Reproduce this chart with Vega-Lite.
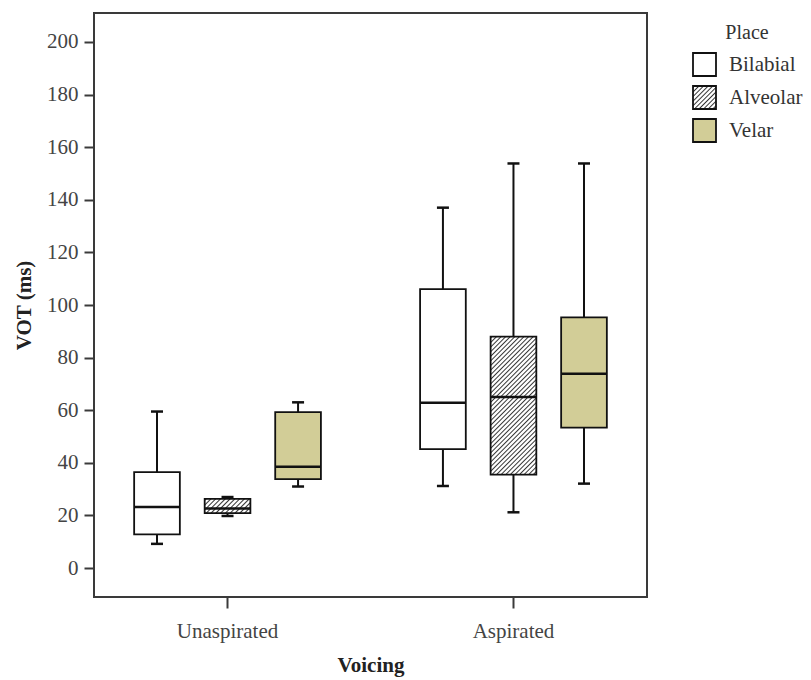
{
  "$schema": "https://vega.github.io/schema/vega-lite/v6.json",
  "width": 553,
  "height": 584,
  "autosize": {"type": "none"},
  "padding": {"left": 94, "top": 13, "right": 164, "bottom": 83},
  "background": "white",
  "config": {
    "font": "Liberation Serif",
    "view": {"stroke": "#3a3a3a", "strokeWidth": 2},
    "axis": {
      "grid": false, "domain": false,
      "tickColor": "#3a3a3a", "tickWidth": 2, "tickSize": 10,
      "labelFont": "Liberation Serif", "labelFontSize": 21, "labelColor": "#444",
      "titleFont": "Liberation Serif", "titleFontSize": 21, "titleFontWeight": "bold", "titleColor": "#222"
    },
    "legend": {
      "orient": "right", "offset": 35, "padding": 10,
      "titleFont": "Liberation Serif", "titleFontSize": 20, "titleFontWeight": "normal", "titleColor": "#333",
      "titleAnchor": "middle", "titlePadding": 9,
      "labelFont": "Liberation Serif", "labelFontSize": 21, "labelColor": "#333", "labelOffset": 12,
      "symbolType": "square", "symbolSize": 529,
      "rowPadding": 2
    }
  },
  "data": {
    "values": [
      {"voicing": "Unaspirated", "place": "Bilabial", "lower": 9.2, "q1": 12.8, "median": 23.2, "q3": 36.5, "upper": 59.5},
      {"voicing": "Unaspirated", "place": "Alveolar", "lower": 19.8, "q1": 20.9, "median": 22.6, "q3": 26.3, "upper": 27.0},
      {"voicing": "Unaspirated", "place": "Velar", "lower": 31.0, "q1": 33.8, "median": 38.5, "q3": 59.3, "upper": 63.0},
      {"voicing": "Aspirated", "place": "Bilabial", "lower": 31.2, "q1": 45.2, "median": 62.8, "q3": 106.0, "upper": 137.0},
      {"voicing": "Aspirated", "place": "Alveolar", "lower": 21.2, "q1": 35.5, "median": 65.0, "q3": 88.0, "upper": 153.8},
      {"voicing": "Aspirated", "place": "Velar", "lower": 32.1, "q1": 53.4, "median": 73.9, "q3": 95.3, "upper": 153.8}
    ]
  },
  "encoding": {
    "x": {
      "field": "voicing", "type": "nominal", "sort": ["Unaspirated", "Aspirated"],
      "scale": {"paddingInner": 0.26, "paddingOuter": 0.097},
      "axis": {"title": "Voicing", "labelAngle": 0, "labelPadding": 12, "tickSize": 11, "titlePadding": 13}
    },
    "xOffset": {
      "field": "place", "type": "nominal", "sort": ["Bilabial", "Alveolar", "Velar"],
      "scale": {"paddingInner": 0.352, "paddingOuter": 0.176}
    }
  },
  "layer": [
    {
      "mark": {"type": "rule", "color": "#111", "strokeWidth": 2},
      "encoding": {
        "y": {
          "field": "lower", "type": "quantitative",
          "scale": {"domain": [-11, 211], "nice": false, "zero": false},
          "axis": {"values": [0, 20, 40, 60, 80, 100, 120, 140, 160, 180, 200], "title": "VOT (ms)", "titlePadding": 12, "labelPadding": 6}
        },
        "y2": {"field": "upper"}
      }
    },
    {
      "mark": {"type": "bar", "stroke": "#111", "strokeWidth": 1.8},
      "encoding": {
        "y": {"field": "q1", "type": "quantitative", "title": "VOT (ms)"},
        "y2": {"field": "q3"},
        "fill": {
          "condition": [
            {
              "test": "datum.place === 'Alveolar' && datum.voicing === 'Aspirated'",
              "value": {
                "gradient": "linear", "x1": 0, "y1": 0, "x2": 0.398, "y2": 1.2,
                "stops": [
                  {"offset": 0, "color": "#fff"}, {"offset": 0.0075, "color": "#333"}, {"offset": 0.015, "color": "#fff"},
                  {"offset": 0.025, "color": "#fff"}, {"offset": 0.0325, "color": "#333"}, {"offset": 0.04, "color": "#fff"},
                  {"offset": 0.05, "color": "#fff"}, {"offset": 0.0575, "color": "#333"}, {"offset": 0.065, "color": "#fff"},
                  {"offset": 0.075, "color": "#fff"}, {"offset": 0.0825, "color": "#333"}, {"offset": 0.09, "color": "#fff"},
                  {"offset": 0.1, "color": "#fff"}, {"offset": 0.1075, "color": "#333"}, {"offset": 0.115, "color": "#fff"},
                  {"offset": 0.125, "color": "#fff"}, {"offset": 0.1325, "color": "#333"}, {"offset": 0.14, "color": "#fff"},
                  {"offset": 0.15, "color": "#fff"}, {"offset": 0.1575, "color": "#333"}, {"offset": 0.165, "color": "#fff"},
                  {"offset": 0.175, "color": "#fff"}, {"offset": 0.1825, "color": "#333"}, {"offset": 0.19, "color": "#fff"},
                  {"offset": 0.2, "color": "#fff"}, {"offset": 0.2075, "color": "#333"}, {"offset": 0.215, "color": "#fff"},
                  {"offset": 0.225, "color": "#fff"}, {"offset": 0.2325, "color": "#333"}, {"offset": 0.24, "color": "#fff"},
                  {"offset": 0.25, "color": "#fff"}, {"offset": 0.2575, "color": "#333"}, {"offset": 0.265, "color": "#fff"},
                  {"offset": 0.275, "color": "#fff"}, {"offset": 0.2825, "color": "#333"}, {"offset": 0.29, "color": "#fff"},
                  {"offset": 0.3, "color": "#fff"}, {"offset": 0.3075, "color": "#333"}, {"offset": 0.315, "color": "#fff"},
                  {"offset": 0.325, "color": "#fff"}, {"offset": 0.3325, "color": "#333"}, {"offset": 0.34, "color": "#fff"},
                  {"offset": 0.35, "color": "#fff"}, {"offset": 0.3575, "color": "#333"}, {"offset": 0.365, "color": "#fff"},
                  {"offset": 0.375, "color": "#fff"}, {"offset": 0.3825, "color": "#333"}, {"offset": 0.39, "color": "#fff"},
                  {"offset": 0.4, "color": "#fff"}, {"offset": 0.4075, "color": "#333"}, {"offset": 0.415, "color": "#fff"},
                  {"offset": 0.425, "color": "#fff"}, {"offset": 0.4325, "color": "#333"}, {"offset": 0.44, "color": "#fff"},
                  {"offset": 0.45, "color": "#fff"}, {"offset": 0.4575, "color": "#333"}, {"offset": 0.465, "color": "#fff"},
                  {"offset": 0.475, "color": "#fff"}, {"offset": 0.4825, "color": "#333"}, {"offset": 0.49, "color": "#fff"},
                  {"offset": 0.5, "color": "#fff"}, {"offset": 0.5075, "color": "#333"}, {"offset": 0.515, "color": "#fff"},
                  {"offset": 0.525, "color": "#fff"}, {"offset": 0.5325, "color": "#333"}, {"offset": 0.54, "color": "#fff"},
                  {"offset": 0.55, "color": "#fff"}, {"offset": 0.5575, "color": "#333"}, {"offset": 0.565, "color": "#fff"},
                  {"offset": 0.575, "color": "#fff"}, {"offset": 0.5825, "color": "#333"}, {"offset": 0.59, "color": "#fff"},
                  {"offset": 0.6, "color": "#fff"}, {"offset": 0.6075, "color": "#333"}, {"offset": 0.615, "color": "#fff"},
                  {"offset": 0.625, "color": "#fff"}, {"offset": 0.6325, "color": "#333"}, {"offset": 0.64, "color": "#fff"},
                  {"offset": 0.65, "color": "#fff"}, {"offset": 0.6575, "color": "#333"}, {"offset": 0.665, "color": "#fff"},
                  {"offset": 0.675, "color": "#fff"}, {"offset": 0.6825, "color": "#333"}, {"offset": 0.69, "color": "#fff"},
                  {"offset": 0.7, "color": "#fff"}, {"offset": 0.7075, "color": "#333"}, {"offset": 0.715, "color": "#fff"},
                  {"offset": 0.725, "color": "#fff"}, {"offset": 0.7325, "color": "#333"}, {"offset": 0.74, "color": "#fff"},
                  {"offset": 0.75, "color": "#fff"}, {"offset": 0.7575, "color": "#333"}, {"offset": 0.765, "color": "#fff"},
                  {"offset": 0.775, "color": "#fff"}, {"offset": 0.7825, "color": "#333"}, {"offset": 0.79, "color": "#fff"},
                  {"offset": 0.8, "color": "#fff"}, {"offset": 0.8075, "color": "#333"}, {"offset": 0.815, "color": "#fff"},
                  {"offset": 0.825, "color": "#fff"}, {"offset": 0.8325, "color": "#333"}, {"offset": 0.84, "color": "#fff"},
                  {"offset": 0.85, "color": "#fff"}, {"offset": 0.8575, "color": "#333"}, {"offset": 0.865, "color": "#fff"},
                  {"offset": 0.875, "color": "#fff"}, {"offset": 0.8825, "color": "#333"}, {"offset": 0.89, "color": "#fff"},
                  {"offset": 0.9, "color": "#fff"}, {"offset": 0.9075, "color": "#333"}, {"offset": 0.915, "color": "#fff"},
                  {"offset": 0.925, "color": "#fff"}, {"offset": 0.9325, "color": "#333"}, {"offset": 0.94, "color": "#fff"},
                  {"offset": 0.95, "color": "#fff"}, {"offset": 0.9575, "color": "#333"}, {"offset": 0.965, "color": "#fff"},
                  {"offset": 0.975, "color": "#fff"}, {"offset": 0.9825, "color": "#333"}, {"offset": 0.99, "color": "#fff"},
                  {"offset": 1, "color": "#fff"}
                ]
              }
            },
            {
              "test": "datum.place === 'Alveolar' && datum.voicing === 'Unaspirated'",
              "value": {
                "gradient": "linear", "x1": 0, "y1": 0, "x2": 1.195, "y2": 0.371,
                "stops": [
                  {"offset": 0, "color": "#fff"}, {"offset": 0.024, "color": "#333"}, {"offset": 0.048, "color": "#fff"},
                  {"offset": 0.08, "color": "#fff"}, {"offset": 0.104, "color": "#333"}, {"offset": 0.128, "color": "#fff"},
                  {"offset": 0.16, "color": "#fff"}, {"offset": 0.184, "color": "#333"}, {"offset": 0.208, "color": "#fff"},
                  {"offset": 0.24, "color": "#fff"}, {"offset": 0.264, "color": "#333"}, {"offset": 0.288, "color": "#fff"},
                  {"offset": 0.32, "color": "#fff"}, {"offset": 0.344, "color": "#333"}, {"offset": 0.368, "color": "#fff"},
                  {"offset": 0.4, "color": "#fff"}, {"offset": 0.424, "color": "#333"}, {"offset": 0.448, "color": "#fff"},
                  {"offset": 0.48, "color": "#fff"}, {"offset": 0.504, "color": "#333"}, {"offset": 0.528, "color": "#fff"},
                  {"offset": 0.56, "color": "#fff"}, {"offset": 0.584, "color": "#333"}, {"offset": 0.608, "color": "#fff"},
                  {"offset": 0.64, "color": "#fff"}, {"offset": 0.664, "color": "#333"}, {"offset": 0.688, "color": "#fff"},
                  {"offset": 0.72, "color": "#fff"}, {"offset": 0.744, "color": "#333"}, {"offset": 0.768, "color": "#fff"},
                  {"offset": 0.8, "color": "#fff"}, {"offset": 0.824, "color": "#333"}, {"offset": 0.848, "color": "#fff"},
                  {"offset": 0.88, "color": "#fff"}, {"offset": 0.904, "color": "#333"}, {"offset": 0.928, "color": "#fff"},
                  {"offset": 0.96, "color": "#fff"}, {"offset": 0.984, "color": "#333"}, {"offset": 1, "color": "#fff"}
                ]
              }
            }
          ],
          "field": "place", "type": "nominal", "sort": ["Bilabial", "Alveolar", "Velar"],
          "scale": {
            "domain": ["Bilabial", "Alveolar", "Velar"],
            "range": [
              "#ffffff",
              {"expr": "{gradient: 'linear', x1: 0, y1: 0, x2: 1, y2: 1, stops: [{offset: 0, color: '#fff'}, {offset: 0.03, color: '#333'}, {offset: 0.06, color: '#fff'}, {offset: 0.1, color: '#fff'}, {offset: 0.13, color: '#333'}, {offset: 0.16, color: '#fff'}, {offset: 0.2, color: '#fff'}, {offset: 0.23, color: '#333'}, {offset: 0.26, color: '#fff'}, {offset: 0.3, color: '#fff'}, {offset: 0.33, color: '#333'}, {offset: 0.36, color: '#fff'}, {offset: 0.4, color: '#fff'}, {offset: 0.43, color: '#333'}, {offset: 0.46, color: '#fff'}, {offset: 0.5, color: '#fff'}, {offset: 0.53, color: '#333'}, {offset: 0.56, color: '#fff'}, {offset: 0.6, color: '#fff'}, {offset: 0.63, color: '#333'}, {offset: 0.66, color: '#fff'}, {offset: 0.7, color: '#fff'}, {offset: 0.73, color: '#333'}, {offset: 0.76, color: '#fff'}, {offset: 0.8, color: '#fff'}, {offset: 0.83, color: '#333'}, {offset: 0.86, color: '#fff'}, {offset: 0.9, color: '#fff'}, {offset: 0.93, color: '#333'}, {offset: 0.96, color: '#fff'}, {offset: 1, color: '#fff'}]}"},
              "#d2cd97"
            ]
          },
          "legend": {
            "title": "Place",
            "symbolStrokeColor": "#111",
            "symbolStrokeWidth": 1.8
          }
        }
      }
    },
    {
      "mark": {"type": "tick", "color": "#111", "opacity": 1, "thickness": 2.5, "size": 45},
      "encoding": {"y": {"field": "median", "type": "quantitative", "title": "VOT (ms)"}}
    },
    {
      "mark": {"type": "tick", "color": "#111", "opacity": 1, "thickness": 2.5, "size": 12},
      "encoding": {"y": {"field": "lower", "type": "quantitative", "title": "VOT (ms)"}}
    },
    {
      "mark": {"type": "tick", "color": "#111", "opacity": 1, "thickness": 2.5, "size": 12},
      "encoding": {"y": {"field": "upper", "type": "quantitative", "title": "VOT (ms)"}}
    }
  ]
}
